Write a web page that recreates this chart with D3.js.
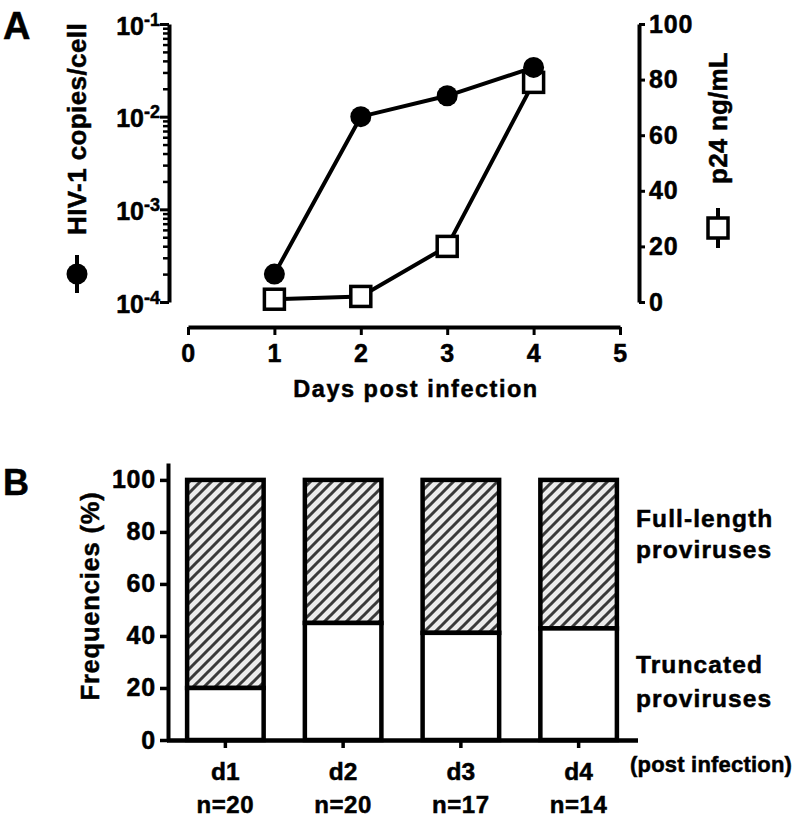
<!DOCTYPE html>
<html>
<head>
<meta charset="utf-8">
<script src="https://cdn.jsdelivr.net/npm/d3@7"></script>
<style>
  html, body { margin: 0; padding: 0; background: #fff; }
  svg { display: block; }
  text { font-family: "Liberation Sans", Arial, Helvetica, sans-serif; font-weight: bold; fill: #000; stroke: #000; stroke-width: 0.5px; }
</style>
</head>
<body>
<svg id="chart" width="796" height="819"></svg>
<script>
// ---------- Data ----------
const days = [1, 2, 3, 4];
const hivCopies = [2.0e-4, 1.0e-2, 1.68e-2, 3.4e-2];   // HIV-1 copies/cell (left, log)
const p24 = [1, 2, 20, 79];                              // p24 ng/mL (right, linear)
const xTicksA = [0, 1, 2, 3, 4, 5];
const leftTicks = [1e-4, 1e-3, 1e-2, 1e-1];
const rightTicks = [0, 20, 40, 60, 80, 100];

const categories = ["d1", "d2", "d3", "d4"];
const nLabels = ["n=20", "n=20", "n=17", "n=14"];
const truncatedPct = [20, 45, 41.2, 42.9];
const fullLengthPct = [80, 55, 58.8, 57.1];
const yTicksB = [0, 20, 40, 60, 80, 100];

// ---------- Setup ----------
const svg = d3.select("#chart");
svg.append("rect").attr("width", 796).attr("height", 819).attr("fill", "#fff");

const defs = svg.append("defs");
const pat = defs.append("pattern").attr("id", "hatch")
  .attr("patternUnits", "userSpaceOnUse").attr("width", 11).attr("height", 11);
pat.append("rect").attr("width", 11).attr("height", 11).attr("fill", "#ececec");
pat.append("path").attr("d", "M0,11 L11,0 M-2,2 L2,-2 M9,13 L13,9")
  .attr("stroke", "#3a3a3a").attr("stroke-width", 3);

function styleAxis(g, domainW, tickW, fs) {
  g.attr("font-size", fs).attr("font-family", null);
  g.select(".domain").attr("stroke", "#000").attr("stroke-width", domainW);
  g.selectAll(".tick line").attr("stroke", "#000").attr("stroke-width", tickW);
  g.selectAll(".tick text").attr("font-size", fs).attr("letter-spacing", 0.8);
}

// ---------- Panel A ----------
const xA = d3.scaleLinear().domain([0, 5]).range([188, 620]);
const yL = d3.scaleLog().domain([1e-4, 1e-1]).range([302, 24]);
const yR = d3.scaleLinear().domain([0, 100]).range([302, 24]);

// x axis
const gx = svg.append("g").attr("transform", "translate(0,327)")
  .call(d3.axisBottom(xA).tickValues(xTicksA).tickFormat(d3.format("d"))
    .tickSize(8).tickSizeOuter(0).tickPadding(9));
styleAxis(gx, 4, 3, 25);

// left log axis - minor ticks
const minor = [];
leftTicks.slice(0, -1).forEach(d => { for (let k = 2; k <= 9; k++) minor.push(d * k); });
const gMinor = svg.append("g").attr("transform", "translate(169,0)")
  .call(d3.axisLeft(yL).tickValues(minor).tickSize(6).tickSizeOuter(0).tickFormat(""));
gMinor.select(".domain").remove();
gMinor.selectAll(".tick line").attr("stroke", "#000").attr("stroke-width", 2.5);

const gL = svg.append("g").attr("transform", "translate(169,0)")
  .call(d3.axisLeft(yL).tickValues(leftTicks).tickSize(9).tickSizeOuter(0).tickFormat(""));
styleAxis(gL, 4, 3, 25);
gL.selectAll(".tick").append("text")
  .attr("x", -9).attr("y", 10).attr("text-anchor", "end").attr("font-size", 25)
  .each(function(d) {
    const t = d3.select(this);
    t.append("tspan").text("10");
    t.append("tspan").attr("dy", -9).attr("font-size", 18).text(String(Math.round(Math.log10(d))));
  });

// right axis
const gR = svg.append("g").attr("transform", "translate(639,0)")
  .call(d3.axisRight(yR).tickValues(rightTicks).tickSize(6).tickSizeOuter(0).tickPadding(4));
styleAxis(gR, 4, 3, 25);

// lines
const lineL = d3.line().x((d, i) => xA(days[i])).y(d => yL(d));
const lineR = d3.line().x((d, i) => xA(days[i])).y(d => yR(d));
svg.append("path").datum(p24).attr("d", lineR).attr("fill", "none").attr("stroke", "#000").attr("stroke-width", 4);
svg.append("path").datum(hivCopies).attr("d", lineL).attr("fill", "none").attr("stroke", "#000").attr("stroke-width", 4);

// markers
svg.selectAll("rect.sq").data(p24).join("rect").attr("class", "sq")
  .attr("x", (d, i) => xA(days[i]) - 10).attr("y", d => yR(d) - 10)
  .attr("width", 20).attr("height", 20)
  .attr("fill", "#fff").attr("stroke", "#000").attr("stroke-width", 3.5);
svg.selectAll("circle.ci").data(hivCopies).join("circle").attr("class", "ci")
  .attr("cx", (d, i) => xA(days[i])).attr("cy", d => yL(d)).attr("r", 10.5).attr("fill", "#000");

// axis titles
svg.append("text").attr("x", 416).attr("y", 397).attr("text-anchor", "middle")
  .attr("font-size", 23.5).attr("letter-spacing", 1.5).text("Days post infection");

svg.append("text").attr("transform", "translate(86,129) rotate(-90)").attr("text-anchor", "middle")
  .attr("font-size", 26).attr("letter-spacing", 0.4).text("HIV-1 copies/cell");
// legend symbol left
svg.append("line").attr("x1", 77).attr("x2", 77).attr("y1", 255).attr("y2", 293).attr("stroke", "#000").attr("stroke-width", 4);
svg.append("circle").attr("cx", 77).attr("cy", 274).attr("r", 10.5).attr("fill", "#000");

svg.append("text").attr("transform", "translate(727,118) rotate(-90)").attr("text-anchor", "middle")
  .attr("font-size", 26).attr("letter-spacing", 0.2).text("p24 ng/mL");
// legend symbol right
svg.append("line").attr("x1", 718).attr("x2", 718).attr("y1", 208).attr("y2", 248).attr("stroke", "#000").attr("stroke-width", 4);
svg.append("rect").attr("x", 708).attr("y", 218).attr("width", 20).attr("height", 20)
  .attr("fill", "#fff").attr("stroke", "#000").attr("stroke-width", 3.5);

svg.append("text").attr("x", 3).attr("y", 39).attr("font-size", 38).text("A");

// ---------- Panel B ----------
const yB = d3.scaleLinear().domain([0, 106.5]).range([740, 463]);
const xB = d3.scaleBand().domain(categories).range([166.5, 637.5]).paddingInner(0.35).paddingOuter(0.175);

// bars
const bars = svg.append("g");
bars.selectAll("rect.full").data(categories).join("rect").attr("class", "full")
  .attr("x", d => xB(d)).attr("width", xB.bandwidth())
  .attr("y", (d, i) => yB(truncatedPct[i] + fullLengthPct[i]))
  .attr("height", (d, i) => yB(truncatedPct[i]) - yB(truncatedPct[i] + fullLengthPct[i]))
  .attr("fill", "url(#hatch)").attr("stroke", "#000").attr("stroke-width", 4.5);
bars.selectAll("rect.trunc").data(categories).join("rect").attr("class", "trunc")
  .attr("x", d => xB(d)).attr("width", xB.bandwidth())
  .attr("y", (d, i) => yB(truncatedPct[i]))
  .attr("height", (d, i) => yB(0) - yB(truncatedPct[i]))
  .attr("fill", "#fff").attr("stroke", "#000").attr("stroke-width", 4.5);

const gyB = svg.append("g").attr("transform", "translate(168,0)")
  .call(d3.axisLeft(yB).tickValues(yTicksB).tickSize(8).tickSizeOuter(0).tickPadding(4));
styleAxis(gyB, 4, 3.5, 25);

const gxB = svg.append("g").attr("transform", "translate(0,740)")
  .call(d3.axisBottom(xB).tickSize(8).tickSizeOuter(0).tickFormat(""));
styleAxis(gxB, 4.5, 3.5, 25);

// category labels
svg.selectAll("text.cat").data(categories).join("text").attr("class", "cat")
  .attr("x", d => xB(d) + xB.bandwidth() / 2).attr("y", 780).attr("text-anchor", "middle")
  .attr("font-size", 24.5).text(d => d);
svg.selectAll("text.nlab").data(nLabels).join("text").attr("class", "nlab")
  .attr("x", (d, i) => xB(categories[i]) + xB.bandwidth() / 2).attr("y", 813).attr("text-anchor", "middle")
  .attr("font-size", 24).attr("letter-spacing", 0.6).text(d => d);

svg.append("text").attr("x", 630).attr("y", 772).attr("font-size", 22).attr("letter-spacing", 0.2).text("(post infection)");

svg.append("text").attr("x", 636).attr("y", 527).attr("font-size", 24.5).attr("letter-spacing", 1.1).text("Full-length");
svg.append("text").attr("x", 636).attr("y", 558).attr("font-size", 24.5).attr("letter-spacing", 1.1).text("proviruses");
svg.append("text").attr("x", 636).attr("y", 673).attr("font-size", 24.5).attr("letter-spacing", 1.1).text("Truncated");
svg.append("text").attr("x", 636).attr("y", 707).attr("font-size", 24.5).attr("letter-spacing", 1.1).text("proviruses");

svg.append("text").attr("transform", "translate(99,596) rotate(-90)").attr("text-anchor", "middle")
  .attr("font-size", 25.5).attr("letter-spacing", 0.8).text("Frequencies (%)");

svg.append("text").attr("x", 3).attr("y", 495).attr("font-size", 36).text("B");
</script>
</body>
</html>
